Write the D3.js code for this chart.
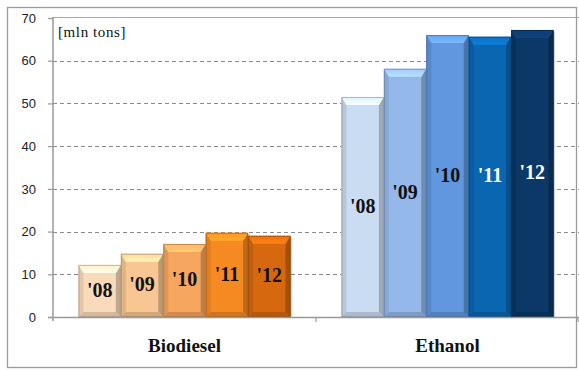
<!DOCTYPE html>
<html>
<head>
<meta charset="utf-8">
<script src="https://cdn.jsdelivr.net/npm/d3@7"></script>
<style>
html,body{margin:0;padding:0;background:#fff;}
svg{display:block;}
</style>
</head>
<body>
<svg id="chart" width="579" height="370"></svg>
<script>
const categories = ["Biodiesel", "Ethanol"];
const years = ["'08", "'09", "'10", "'11", "'12"];
const biodiesel = [12.2, 14.8, 17.1, 19.7, 19.0];
const ethanol = [51.5, 58.1, 66.0, 65.6, 67.2];
const yTicks = [0, 10, 20, 30, 40, 50, 60, 70];
const unitLabel = "[mln tons]";
const biodieselColors = ["#F9DABB", "#F8C692", "#F6A65E", "#F58A22", "#D6690F"];
const ethanolColors = ["#CADCF1", "#94B8E9", "#6097DE", "#0B66B2", "#0B3866"];
const labelColors = {
  Biodiesel: ["#111", "#111", "#111", "#111", "#111"],
  Ethanol: ["#111", "#111", "#111", "#fff", "#fff"]
};

(function () {
const series = {Biodiesel: biodiesel, Ethanol: ethanol};
const colors = {Biodiesel: biodieselColors, Ethanol: ethanolColors};

const svg = d3.select("#chart");
const pLeft = 53, pRight = 579, pTop = 18, pBottom = 317;

svg.append("rect").attr("x", 7.5).attr("y", 7.5).attr("width", 569).attr("height", 360)
  .attr("fill", "none").attr("stroke", "#9a9a9a").attr("stroke-width", 1.3);

const y = d3.scaleLinear().domain([0, 70]).range([pBottom, pTop]);
const x = d3.scaleBand().domain(categories).range([pLeft, pRight]);
const xi = d3.scaleBand().domain(years).range([0, x.bandwidth()]).paddingInner(0).paddingOuter(0.6);

svg.append("g").selectAll("line").data(yTicks.filter(t => t > 0 && t < 70)).join("line")
  .attr("x1", pLeft).attr("x2", pRight)
  .attr("y1", d => Math.round(y(d)) + 0.5).attr("y2", d => Math.round(y(d)) + 0.5)
  .attr("stroke", "#8a8a8a").attr("stroke-width", 1).attr("stroke-dasharray", "4,3");

svg.append("line").attr("x1", pLeft).attr("x2", pRight).attr("y1", y(70) - 0.5).attr("y2", y(70) - 0.5)
  .attr("stroke", "#a8a8a8").attr("stroke-width", 1.2);

const yAxis = d3.axisLeft(y).tickValues(yTicks).tickSize(5).tickPadding(12);
const gy = svg.append("g").attr("transform", `translate(${pLeft},0)`).call(yAxis);
gy.select(".domain").attr("stroke", "#999").attr("stroke-width", 1.5).attr("d", `M0,${y(70)-1}V${pBottom+4}`);
gy.selectAll(".tick line").attr("stroke", "#999").attr("stroke-width", 1.2);
gy.selectAll(".tick text").attr("font-family", "Liberation Sans, Arial, sans-serif")
  .attr("font-size", 13).attr("fill", "#222");

const defs = svg.append("defs");
const barsG = svg.append("g");
categories.forEach((cat, ci) => {
  const vals = series[cat];
  vals.forEach((v, i) => {
    const x0 = x(cat) + xi(years[i]);
    const w = xi.bandwidth();
    const y0 = y(v), y1 = y(0);
    const c = d3.color(colors[cat][i]);
    const g = barsG.append("g");
    const s = 5, t = 8;
    const x1 = x0 + w;
    const gid = `top${ci}_${i}`;
    const lg = defs.append("linearGradient").attr("id", gid).attr("x1", 0).attr("y1", 0).attr("x2", 0).attr("y2", 1);
    lg.append("stop").attr("offset", "0%").attr("stop-color", c.brighter(0.25).formatHex());
    lg.append("stop").attr("offset", "100%").attr("stop-color", c.brighter(0.6).formatHex());
    g.append("rect").attr("x", x0 + 1.5).attr("y", y0 + 1.5).attr("width", w).attr("height", y1 - y0 - 1.5)
      .attr("fill", "rgba(0,0,0,0.18)");
    g.append("rect").attr("x", x0).attr("y", y0).attr("width", w).attr("height", y1 - y0)
      .attr("fill", c.formatHex());
    g.append("polygon").attr("points", [[x0, y0], [x0 + s, y0 + t], [x0 + s, y1 - s], [x0, y1]].join(" "))
      .attr("fill", c.darker(0.35).formatHex()).attr("opacity", 0.8);
    g.append("polygon").attr("points", [[x1, y0], [x1 - s, y0 + t], [x1 - s, y1 - s], [x1, y1]].join(" "))
      .attr("fill", c.darker(0.9).formatHex()).attr("opacity", 0.85);
    g.append("polygon").attr("points", [[x0, y0], [x1, y0], [x1 - s, y0 + t], [x0 + s, y0 + t]].join(" "))
      .attr("fill", `url(#${gid})`);
    g.append("polygon").attr("points", [[x0, y1], [x1, y1], [x1 - s, y1 - s], [x0 + s, y1 - s]].join(" "))
      .attr("fill", c.darker(0.6).formatHex()).attr("opacity", 0.8);
    g.append("rect").attr("x", x0 + 0.5).attr("y", y0 + 0.5).attr("width", w - 1).attr("height", y1 - y0 - 1)
      .attr("fill", "none").attr("stroke", c.darker(1.2).formatHex()).attr("stroke-opacity", 0.6).attr("stroke-width", 1);
    g.append("text").attr("x", x0 + w / 2).attr("y", (y0 + y1) / 2 + 1)
      .attr("text-anchor", "middle").attr("dominant-baseline", "middle")
      .attr("font-family", "Liberation Serif, Times New Roman, serif").attr("font-weight", "bold")
      .attr("font-size", 20).attr("fill", labelColors[cat][i]).text(years[i]);
  });
});

svg.append("line").attr("x1", pLeft - 5).attr("x2", pRight).attr("y1", pBottom + 0.5).attr("y2", pBottom + 0.5)
  .attr("stroke", "#999").attr("stroke-width", 1.5);
const sepX = [x(categories[1]), pRight - 1];
svg.append("g").selectAll("line").data(sepX).join("line")
  .attr("x1", d => d).attr("x2", d => d).attr("y1", pBottom).attr("y2", pBottom + 5)
  .attr("stroke", "#999").attr("stroke-width", 1.2);

svg.append("g").selectAll("text").data(categories).join("text")
  .attr("x", d => x(d) + x.bandwidth() / 2).attr("y", 352)
  .attr("text-anchor", "middle")
  .attr("font-family", "Liberation Serif, Times New Roman, serif").attr("font-weight", "bold")
  .attr("font-size", 19).attr("fill", "#111").text(d => d);

svg.append("text").attr("x", 58).attr("y", 37)
  .attr("font-family", "Liberation Serif, Times New Roman, serif")
  .attr("font-size", 15).attr("letter-spacing", 0.6).attr("fill", "#111").text(unitLabel);
})();
</script>
</body>
</html>
